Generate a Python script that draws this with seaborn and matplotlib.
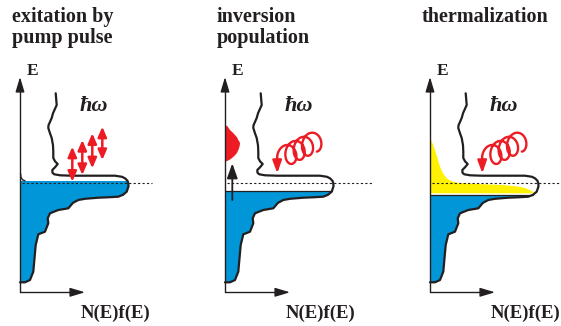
import numpy as np
import matplotlib.pyplot as plt
import seaborn as sns

# density of states curve: distance from the E axis (px) vs energy above the Fermi level (px)
dos_value = [35.7, 36.7, 33.0, 31.7, 28.5, 28.3, 30.0, 31.7, 33.0, 33.3, 33.3, 35.0, 37.7, 35.0,
             32.3, 32.5, 34.3, 40.0, 51.7, 95.0, 102.0, 105.0, 107.5, 108.3, 108.5, 107.5, 106.7,
             103.0, 98.3, 88.0, 78.3, 65.0, 58.3, 53.0, 48.3, 38.3, 30.0, 27.7, 28.3, 25.0, 18.3,
             15.7, 14.5, 13.3, 10.0, 5.0, 0.0]
dos_energy = [90.0, 78.3, 70.0, 65.3, 58.0, 55.3, 50.0, 45.3, 38.0, 31.6, 25.3, 22.0, 19.3, 16.0,
              13.3, 10.5, 9.0, 8.0, 7.6, 7.6, 6.5, 5.0, 2.5, 0.0, -3.0, -6.0, -8.4,
              -11.5, -13.4, -14.0, -14.4, -15.5, -16.7, -19.5, -25.0, -26.7, -30.0, -35.0, -40.0, -48.4, -51.0,
              -61.7, -75.0, -88.4, -96.7, -99.0, -99.0]

titles = ["exitation by\npump pulse", "inversion\npopulation", "thermalization"]
filled_top = [2.3, -7.7, -11.7]          # top of the occupied (blue) states
dotted_len = [132, 148, 140]

# pump transitions in panel 1 (x from axis, lower / upper energy)
pump_x = [52.3, 62.3, 72.3, 82.3]
pump_low = [1.6, 8.3, 15.0, 23.3]
pump_high = [36.6, 43.3, 50.0, 56.6]

# excited electrons in panel 2 (red bump on the axis)
hot_value = [0.0, 2.5, 5.0, 8.0, 10.0, 12.0, 13.3, 14.5, 15.0, 14.7, 14.0, 13.0, 11.7, 9.5, 6.7, 4.5, 2.5, 0.0]
hot_energy = [58.3, 57.0, 53.3, 50.5, 48.3, 46.0, 43.3, 41.5, 40.0, 37.5, 35.0, 32.5, 30.0, 27.5, 25.0, 23.5, 22.5, 21.6]

# thermalized electrons in panel 3 (yellow)
therm_value = [0.0, 2.5, 5.0, 7.5, 10.0, 13.0, 16.7, 20.0, 23.0, 30.0, 50.0, 73.0, 88.0, 95.0, 101.0, 105.0]
therm_energy = [45.0, 40.0, 33.3, 25.0, 16.6, 10.0, 5.0, 2.8, 1.6, 0.3, -0.8, -1.7, -3.2, -4.7, -7.5, -10.0]

axis_x = [20, 225, 430]
fermi_y = 183.3
ink = "#231f20"
red = "#ed1c24"
blue = "#0096d8"
yellow = "#fff200"

sns.set_style("white")
plt.rcParams["font.family"] = ["Liberation Serif", "DejaVu Serif"]
serif = ["Liberation Serif", "DejaVu Serif"]

fig = plt.figure(figsize=(5.61, 3.26), dpi=100)
ax = fig.add_axes([0, 0, 1, 1])
ax.set_xlim(0, 561)
ax.set_ylim(326, 0)
ax.axis("off")

xv = np.array(dos_value)
ev = np.array(dos_energy)


def arrow(x0, y0, x1, y1, color, lw, style="-|>", hl=0.8, hw=0.3, ms=10):
    ax.annotate("", xy=(x1, y1), xytext=(x0, y0),
                arrowprops=dict(arrowstyle=f"{style},head_length={hl},head_width={hw}",
                                color=color, lw=lw, shrinkA=0, shrinkB=0,
                                mutation_scale=ms), zorder=7)


for i, x0 in enumerate(axis_x):
    top = filled_top[i]
    # occupied states
    xt = np.interp(top, ev[::-1], xv[::-1])
    keep = ev < top
    poly_x = np.r_[0, xt, xv[keep], 0] + x0
    poly_y = fermi_y - np.r_[top, top, ev[keep], ev[keep][-1]]
    ax.fill(poly_x, poly_y, color=blue, lw=0, zorder=1)
    if i > 0:
        ax.plot([x0, x0 + xt], [fermi_y - top] * 2, color=ink, lw=0.9, zorder=3)

    if i == 2:
        tx = np.r_[therm_value, 0] + x0
        ty = fermi_y - np.r_[therm_energy, therm_energy[-1]]
        ax.fill(tx, ty, color=yellow, lw=0, zorder=2)

    if i == 1:
        ax.fill(np.array(hot_value) + x0, fermi_y - np.array(hot_energy), color=red, lw=0, zorder=2)
        arrow(x0 + 7.3, 200, x0 + 7.3, 163.3, ink, 1.3, hl=0.9, hw=0.32)

    # DOS outline
    sns.lineplot(x=xv + x0, y=fermi_y - ev, sort=False, estimator=None, ax=ax,
                 color=ink, lw=1.6, zorder=4)
    if i == 0:
        ax.plot(x0 + np.array([0.5, 1.0, 2.5, 5.0]), fermi_y - np.array([10, 6, 3.5, 2.5]),
                color=ink, lw=1.0, zorder=4)

    # Fermi level
    ax.plot([x0 + 2, x0 + dotted_len[i]], [fermi_y, fermi_y], color=ink, lw=0.8,
            ls=(0, (2, 2)), zorder=5)

    # axes
    ax.plot([x0, x0], [292.3, 85], color=ink, lw=1.0, zorder=5)
    arrow(x0, 86, x0, 77, ink, 1.0, hl=1.0, hw=0.3, ms=9)
    ax.plot([x0, x0 + 56], [292.3, 292.3], color=ink, lw=1.0, zorder=5)
    arrow(x0 + 55, 292.3, x0 + 65, 292.3, ink, 1.0, hl=1.0, hw=0.3, ms=9)

    ax.text(x0 + 7, 75, "E", fontsize=12.5, fontweight="bold", color=ink, va="baseline",
            family=serif)
    ax.text(x0 + 61, 318, "N(E)f(E)", fontsize=13.5, fontweight="bold", color=ink,
            va="baseline", family=serif)
    ax.text(x0 + 60, 106, "ħω", fontsize=16, fontweight="bold", fontstyle="italic",
            color=ink, va="center", family=serif)
    lines = titles[i].split("\n")
    for k, line in enumerate(lines):
        ax.text(x0 - 8.3, 22 + 21 * k, line, fontsize=14.5, fontweight="bold", color=ink,
                va="baseline", family=serif)

    if i == 0:
        for px, lo, hi in zip(pump_x, pump_low, pump_high):
            arrow(x0 + px, fermi_y - lo, x0 + px, fermi_y - hi, red, 1.8,
                  style="<|-|>", hl=0.6, hw=0.26)
    else:
        # relaxation loops
        th = np.linspace(-0.45 * np.pi, 7 * np.pi, 600)
        cx = 88.78 - 8.33 * th / (2 * np.pi)
        cy = 143.2 + 4.1 * (th - np.pi / 2) / (2 * np.pi)
        sx = cx + 7.5 * np.cos(th) + x0
        sy = cy - 10.5 * np.sin(th)
        ax.plot(sx, sy, color=red, lw=1.7, zorder=6, solid_capstyle="round")
        arrow(sx[-1], sy[-1], x0 + 52.3, 173.3, red, 1.7, hl=0.75, hw=0.27)

fig.savefig("out.png", dpi=100)
